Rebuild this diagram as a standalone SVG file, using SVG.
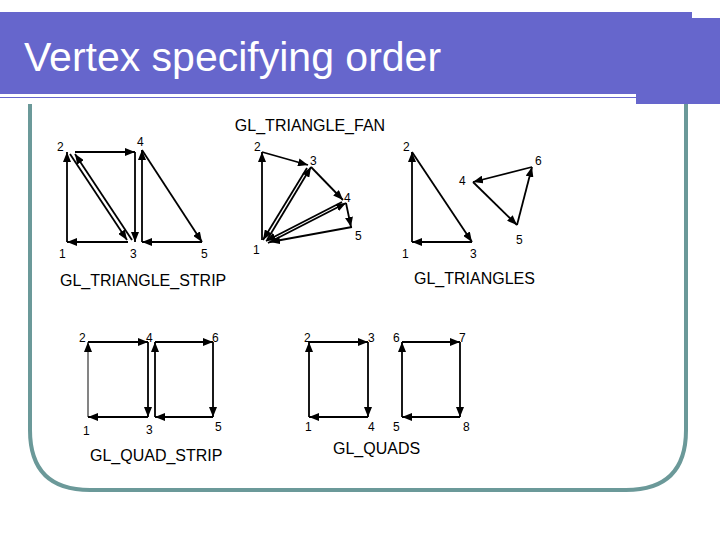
<svg xmlns="http://www.w3.org/2000/svg" width="720" height="540" viewBox="0 0 720 540">
<defs>
<marker id="a" markerUnits="userSpaceOnUse" markerWidth="10" markerHeight="8" refX="10" refY="4" orient="auto"><path d="M0,0 L10,4 L0,8 Z" fill="#000"/></marker>
<style>
.e{stroke:#000;stroke-width:1.8;fill:none;marker-end:url(#a)}
.n{font-family:"Liberation Sans",Arial,sans-serif;font-size:12px;fill:#000}
.t{font-family:"Liberation Sans",Arial,sans-serif;font-size:16px;fill:#000}
</style>
</defs>
<rect width="720" height="540" fill="#fff"/>
<g id="header">
<rect x="0" y="12" width="692" height="86" fill="#6666cc"/>
<rect x="692" y="18" width="28" height="86" fill="#6666cc"/>
<rect x="0" y="94" width="636" height="3" fill="#fff"/>
<rect x="636" y="97" width="56" height="7" fill="#6666cc"/>
<text x="24" y="71" font-family="'Liberation Sans',Arial,sans-serif" font-size="41" fill="#fff">Vertex specifying order</text>
</g>
<path id="frame" d="M30,104 V430 Q30,490 90,490 H626 Q686,490 686,430 V104" fill="none" stroke="#6b9999" stroke-width="4"/>
<g id="labels">
<text class="t" x="310" y="131" text-anchor="middle">GL_TRIANGLE_FAN</text>
<text class="t" x="60" y="286">GL_TRIANGLE_STRIP</text>
<text class="t" x="414" y="284">GL_TRIANGLES</text>
<text class="t" x="90" y="461">GL_QUAD_STRIP</text>
<text class="t" x="333" y="454">GL_QUADS</text>
</g>
<g id="connectors">
<path class="e" d="M67,242 V152"/>
<path class="e" d="M70,154 L127,240"/>
<path class="e" d="M132,240 L75,154"/>
<path class="e" d="M75,152 H135"/>
<path class="e" d="M135,152 V242"/>
<path class="e" d="M128,242 H67"/>
<path class="e" d="M142,242 V150"/>
<path class="e" d="M142,150 L202,242"/>
<path class="e" d="M202,242 H142"/>
<path class="e" d="M262,240 V152"/>
<path class="e" d="M262,152 L308,165"/>
<path class="e" d="M307,168 L263,240"/>
<path class="e" d="M267,240 L311,167"/>
<path class="e" d="M311,167 L343,200"/>
<path class="e" d="M342,202 L266,241"/>
<path class="e" d="M268,243 L346,203"/>
<path class="e" d="M346,203 L351,227"/>
<path class="e" d="M352,227 L270,242"/>
<path class="e" d="M412,242 V152"/>
<path class="e" d="M412,152 L472,242"/>
<path class="e" d="M472,242 H412"/>
<path class="e" d="M473,182 L517,225"/>
<path class="e" d="M517,225 L532,167"/>
<path class="e" d="M532,167 L473,182"/>
<path class="e" d="M88,417 V342" style="stroke:#777"/>
<path class="e" d="M88,342 H148"/>
<path class="e" d="M148,342 V417"/>
<path class="e" d="M148,417 H88"/>
<path class="e" d="M155,417 V342"/>
<path class="e" d="M155,342 H213"/>
<path class="e" d="M213,342 V417"/>
<path class="e" d="M213,417 H155"/>
<path class="e" d="M309,417 V342"/>
<path class="e" d="M309,342 H368"/>
<path class="e" d="M368,342 V417"/>
<path class="e" d="M368,417 H309"/>
<path class="e" d="M402,417 V342"/>
<path class="e" d="M402,342 H460"/>
<path class="e" d="M460,342 V417"/>
<path class="e" d="M460,417 H402"/>
</g>
<g id="numbers">
<text class="n" x="57" y="151">2</text><text class="n" x="59" y="258">1</text><text class="n" x="130" y="258">3</text><text class="n" x="137" y="146">4</text><text class="n" x="201" y="258">5</text>
<text class="n" x="254" y="151">2</text><text class="n" x="310" y="165">3</text><text class="n" x="344" y="202">4</text><text class="n" x="355" y="240">5</text><text class="n" x="253" y="254">1</text>
<text class="n" x="403" y="151">2</text><text class="n" x="402" y="258">1</text><text class="n" x="470" y="258">3</text><text class="n" x="459" y="185">4</text><text class="n" x="535" y="165">6</text><text class="n" x="516" y="244">5</text>
<text class="n" x="79" y="342">2</text><text class="n" x="146" y="342">4</text><text class="n" x="212" y="342">6</text><text class="n" x="83" y="435">1</text><text class="n" x="146" y="434">3</text><text class="n" x="215" y="431">5</text>
<text class="n" x="304" y="342">2</text><text class="n" x="368" y="342">3</text><text class="n" x="393" y="342">6</text><text class="n" x="459" y="342">7</text><text class="n" x="305" y="431">1</text><text class="n" x="368" y="431">4</text><text class="n" x="393" y="431">5</text><text class="n" x="463" y="431">8</text>
</g>
</svg>
